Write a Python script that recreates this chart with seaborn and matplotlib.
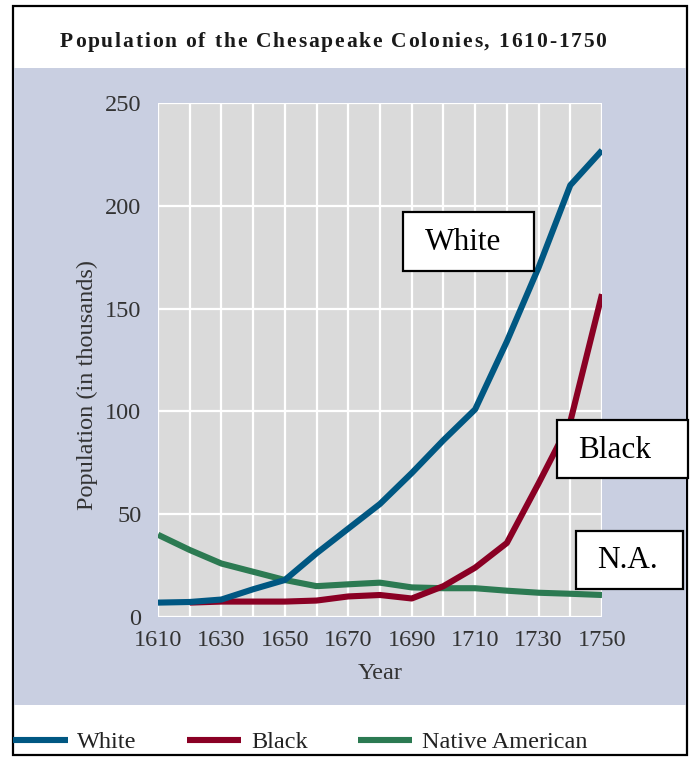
import matplotlib
matplotlib.use("Agg")
import matplotlib.pyplot as plt
import seaborn as sns
import pandas as pd
from matplotlib.patches import Rectangle

# ---- data (population in thousands) ----
years = [1610, 1620, 1630, 1640, 1650, 1660, 1670, 1680, 1690, 1700, 1710, 1720, 1730, 1740, 1750]
white = [7, 7.3, 8.5, 13.5, 18, 31, 43, 55, 70, 86, 101, 134, 170, 210, 227]
black_years = [1620, 1630, 1640, 1650, 1660, 1670, 1680, 1690, 1700, 1710, 1720, 1730, 1740, 1750]
black = [7, 7.5, 7.5, 7.5, 8, 10, 10.7, 9, 15, 24, 36, 65, 95, 157]
native = [40, 32.6, 26, 22, 18, 15, 15.9, 16.7, 14.4, 14, 14, 12.8, 11.8, 11.3, 10.7]

series_names = ["White", "Black", "Native American"]
colors = {"White": "#005782", "Black": "#8a0024", "Native American": "#2c7a52"}
title = "Population of the Chesapeake Colonies, 1610-1750"
xticks = [1610, 1630, 1650, 1670, 1690, 1710, 1730, 1750]
yticks = [0, 50, 100, 150, 200, 250]

df = pd.concat([
    pd.DataFrame({"Year": years, "Population": white, "Group": "White"}),
    pd.DataFrame({"Year": black_years, "Population": black, "Group": "Black"}),
    pd.DataFrame({"Year": years, "Population": native, "Group": "Native American"}),
])

sns.set_theme(style="white")
plt.rcParams["font.family"] = ["Liberation Serif", "DejaVu Serif"]

W, H = 692, 757
fig = plt.figure(figsize=(W / 100, H / 100), dpi=100)

def fx(px):
    return px / W

def fy(py):
    return 1 - py / H

# outer border and blue band
fig.patches.append(Rectangle((fx(13), fy(755)), fx(687) - fx(13), fy(6) - fy(755),
                             transform=fig.transFigure, facecolor="white",
                             edgecolor="black", linewidth=1.6, zorder=-2))
fig.patches.append(Rectangle((fx(14), fy(705)), fx(686) - fx(14), fy(68) - fy(705),
                             transform=fig.transFigure, facecolor="#c9cfe1",
                             edgecolor="none", zorder=-1))

ax = fig.add_axes([fx(158), fy(617), fx(602) - fx(158), fy(103) - fy(617)])
ax.set_zorder(1)
ax.set_facecolor("#dadada")

sns.lineplot(data=df, x="Year", y="Population", hue="Group", hue_order=series_names,
             palette=colors, linewidth=4.4, ax=ax, legend=True)
handles, labels = ax.get_legend_handles_labels()
ax.get_legend().remove()

zord = {"White": 5, "Black": 4, "Native American": 3}
for line, name in zip(ax.lines, series_names):
    line.set_zorder(zord[name])
    line.set_solid_capstyle("butt")
for h in handles:
    h.set_linewidth(4.4)
    h.set_solid_capstyle("butt")

ax.set_xlim(1610, 1750)
ax.set_ylim(0, 250)
ax.set_xticks(xticks)
ax.set_xticks(range(1620, 1750, 10), minor=True)
ax.set_yticks(yticks)
ax.grid(True, which="both", axis="x", color="white", linewidth=1.6)
ax.grid(True, which="major", axis="y", color="white", linewidth=1.6)
ax.set_axisbelow(True)
for s in ax.spines.values():
    s.set_visible(False)
ax.tick_params(axis="both", which="both", length=0, labelsize=17.5, colors="#333333")
ax.tick_params(axis="y", pad=12)
ax.tick_params(axis="x", pad=9)
ax.set_xlabel("Year", fontsize=17.5, color="#333333", labelpad=9)
ax.set_ylabel("Population (in thousands)", fontsize=17.5, color="#333333")
ax.yaxis.set_label_coords((98 - 158) / 444, (617 - 385) / 514)

# title, drawn with letter spacing
renderer = fig.canvas.get_renderer()
tsize = 15.5
tracking = 1.8  # px between characters

def text_width(s):
    t = fig.text(0, 0, s + "|", fontsize=tsize, fontweight="bold")
    w = t.get_window_extent(renderer).width
    t.remove()
    return w

bar_w = text_width("")
natural = [text_width(title[:i]) - bar_w for i in range(len(title) + 1)]
total = natural[-1] + tracking * (len(title) - 1)
x_start = 333 - total / 2
for i, ch in enumerate(title):
    if ch == " ":
        continue
    fig.text(fx(x_start + natural[i] + tracking * i), fy(42), ch, ha="left",
             va="center", fontsize=tsize, fontweight="bold", color="#1a1a1a")

# annotation boxes
def box(x0, y0, x1, y1, text, tx, ty):
    fig.patches.append(Rectangle((fx(x0), fy(y1)), fx(x1) - fx(x0), fy(y0) - fy(y1),
                                 transform=fig.transFigure, facecolor="white",
                                 edgecolor="black", linewidth=1.6, zorder=10))
    fig.text(fx(tx), fy(ty), text, ha="center", va="center", fontsize=22.5,
             color="black", zorder=11)

box(403, 212, 534, 271, "White", 463, 243)
box(557, 420, 688, 478, "Black", 615, 450)
box(576, 531, 683, 589, "N.A.", 627, 561)

# legend
fig.legend(handles, labels, loc="center left", bbox_to_anchor=(fx(13), fy(742)),
           ncol=3, frameon=False, fontsize=17.5, handlelength=2.25, handletextpad=0.4,
           columnspacing=2.05, labelcolor="#222222", borderaxespad=0, borderpad=0)

fig.savefig("out.png", dpi=100)
